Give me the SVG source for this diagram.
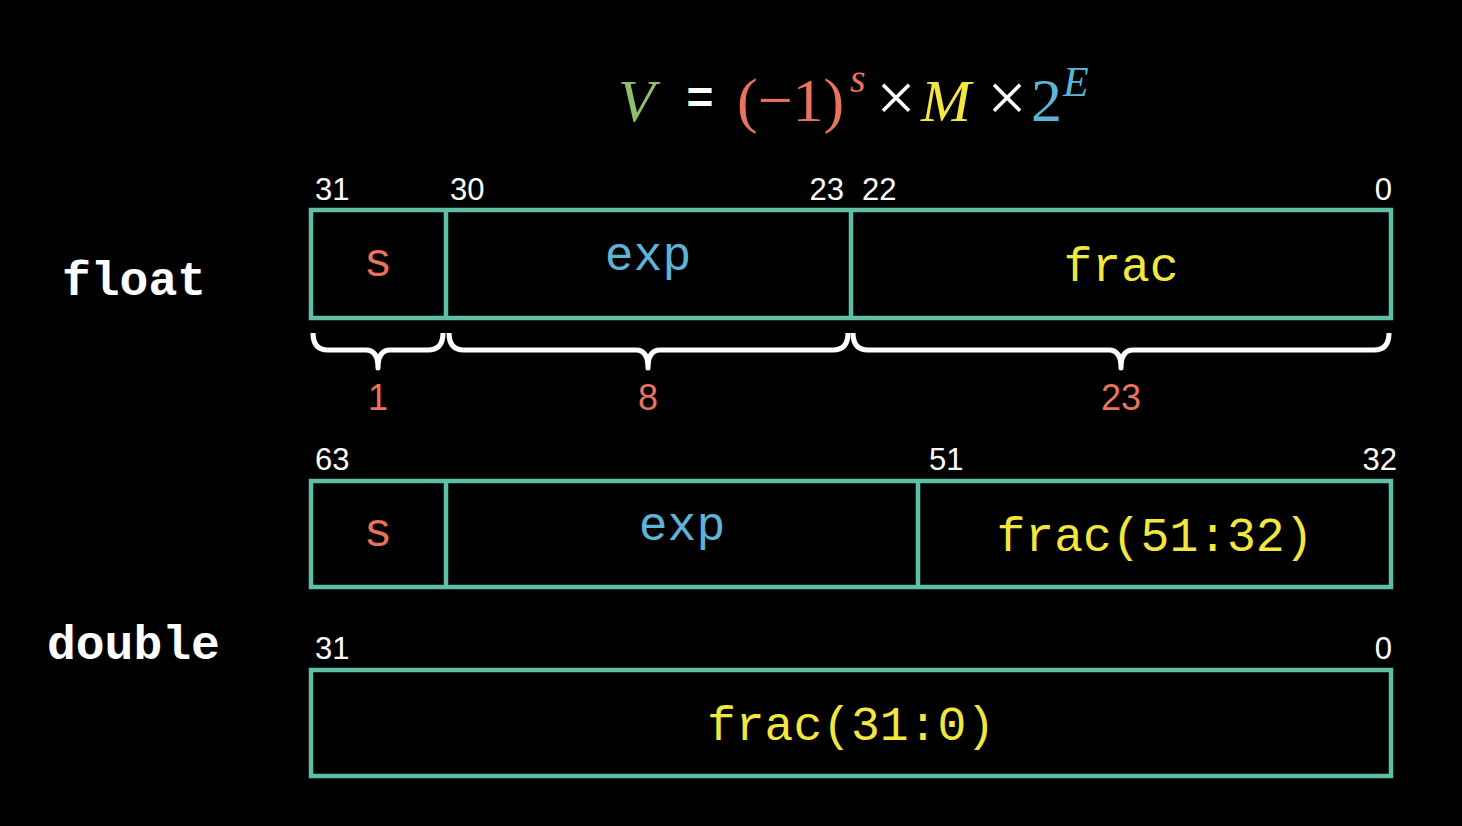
<svg xmlns="http://www.w3.org/2000/svg" width="1462" height="826" viewBox="0 0 1462 826">
<style>
.box{fill:none;stroke:#5fbfa6;stroke-width:4.5}
.div{stroke:#5fbfa6;stroke-width:4.5}
.num{font-family:"Liberation Sans",Arial,sans-serif;font-size:31px;fill:#ffffff}
.mono{font-family:"Liberation Mono","Courier New",monospace;font-size:48px}
.lbl{font-family:"Liberation Mono","Courier New",monospace;font-weight:bold;font-size:48px;fill:#ffffff}
.red{fill:#e8735e}
.blue{fill:#5fb3d6}
.yel{fill:#f2e640}
.brace{fill:none;stroke:#ffffff;stroke-width:5;stroke-linejoin:round}
.cnt{font-family:"Liberation Sans",Arial,sans-serif;font-size:36px;fill:#e8735e;text-anchor:middle}
.ser{font-family:"Liberation Serif","Times New Roman",serif}
</style>
<rect width="1462" height="826" fill="#000000"/>
<g id="formula">
<text class="ser" x="618" y="121" font-size="60" font-style="italic" fill="#8fbf6a">V</text>
<text x="700" y="113" font-family="Liberation Sans,Arial,sans-serif" font-weight="bold" font-size="46" fill="#ffffff" text-anchor="middle">=</text>
<text class="ser" x="737" y="121" font-size="62" fill="#e8735e">(−1)</text>
<text class="ser" x="850" y="92" font-size="40" font-style="italic" fill="#e8735e">s</text>
<text class="ser" x="896" y="121" font-size="70" fill="#ffffff" text-anchor="middle">×</text>
<text class="ser" x="921" y="121" font-size="60" font-style="italic" fill="#f2e640">M</text>
<text class="ser" x="1007" y="121" font-size="70" fill="#ffffff" text-anchor="middle">×</text>
<text class="ser" x="1031" y="121" font-size="62" fill="#5bb5d5">2</text>
<text class="ser" x="1063" y="96" font-size="42" font-style="italic" fill="#5bb5d5">E</text>
</g>
<g id="float-label"><text class="lbl" x="62" y="295">float</text></g>
<g id="double-label"><text class="lbl" x="47" y="659">double</text></g>
<g id="float-box">
<rect class="box" x="311" y="210" width="1080" height="108"/>
<line class="div" x1="446" y1="210" x2="446" y2="318"/>
<line class="div" x1="851" y1="210" x2="851" y2="318"/>
<text class="num" x="315" y="200">31</text>
<text class="num" x="450" y="200">30</text>
<text class="num" x="844" y="200" text-anchor="end">23</text>
<text class="num" x="862" y="200">22</text>
<text class="num" x="1392" y="200" text-anchor="end">0</text>
<text class="mono red" x="378" y="276" text-anchor="middle">s</text>
<text class="mono blue" x="648" y="270" text-anchor="middle">exp</text>
<text class="mono yel" x="1121" y="281" text-anchor="middle">frac</text>
</g>
<g id="braces">
<path class="brace" d="M313,333 Q313,350 328,350 L366,350 Q378,350 378,368 Q378,350 390,350 L428,350 Q443,350 443,333"/>
<path class="brace" d="M449,333 Q449,350 464,350 L636,350 Q648,350 648,368 Q648,350 660,350 L833,350 Q848,350 848,333"/>
<path class="brace" d="M853,333 Q853,350 868,350 L1109,350 Q1121,350 1121,368 Q1121,350 1133,350 L1374,350 Q1389,350 1389,333"/>
<text class="cnt" x="378" y="410">1</text>
<text class="cnt" x="648" y="410">8</text>
<text class="cnt" x="1121" y="410">23</text>
</g>
<g id="double-high">
<rect class="box" x="311" y="481" width="1080" height="106"/>
<line class="div" x1="446" y1="481" x2="446" y2="587"/>
<line class="div" x1="918" y1="481" x2="918" y2="587"/>
<text class="num" x="315" y="470">63</text>
<text class="num" x="929" y="470">51</text>
<text class="num" x="1397" y="470" text-anchor="end">32</text>
<text class="mono red" x="378" y="546" text-anchor="middle">s</text>
<text class="mono blue" x="682" y="540" text-anchor="middle">exp</text>
<text class="mono yel" x="1155" y="551" text-anchor="middle">frac(51:32)</text>
</g>
<g id="double-low">
<rect class="box" x="311" y="670" width="1080" height="106"/>
<text class="num" x="315" y="659">31</text>
<text class="num" x="1392" y="659" text-anchor="end">0</text>
<text class="mono yel" x="851" y="740" text-anchor="middle">frac(31:0)</text>
</g>
</svg>
